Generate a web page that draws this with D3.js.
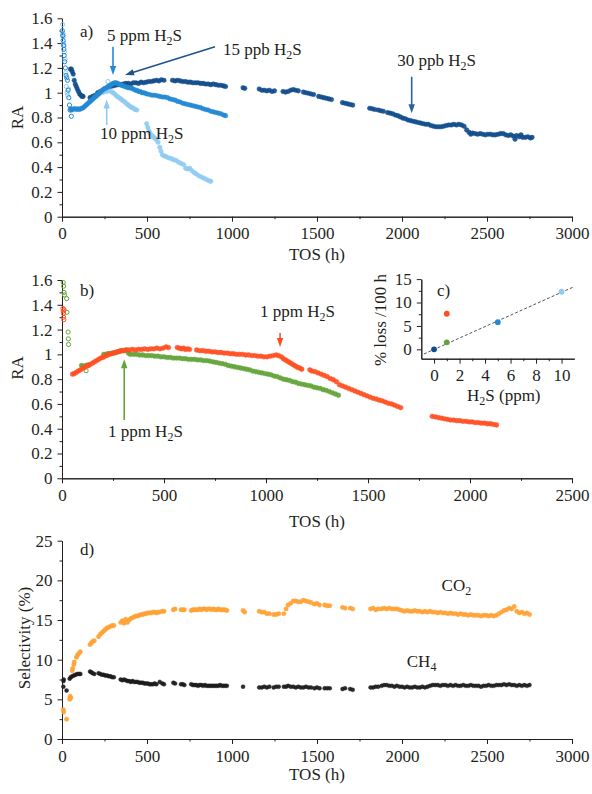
<!DOCTYPE html>
<html>
<head>
<meta charset="utf-8">
<script src="https://cdn.jsdelivr.net/npm/d3@7"></script>
<style>
  body { margin: 0; background: #fff; }
  text { font-family: "Liberation Serif", "Times New Roman", Times, serif; }
</style>
</head>
<body>
<svg id="chart" width="592" height="794"></svg>
<script>
// ---------- Panel a: relative activity vs time on stream ----------
const aTicksX = [0, 500, 1000, 1500, 2000, 2500, 3000];
const aMinorX = [250, 750, 1250, 1750, 2250, 2750];
const aTicksY = [0, 0.2, 0.4, 0.6, 0.8, 1, 1.2, 1.4, 1.6];
const aMinorY = [0.1, 0.3, 0.5, 0.7, 0.9, 1.1, 1.3, 1.5];

// 15 ppb then 30 ppb H2S run
const aDark = [
  [50,1.19],[55,1.19],[60,1.17],[66,1.15],[72,1.10],[78,1.07],[84,1.05],[90,1.03],[97,1.01],[104,0.99],[111,0.98],[118,0.97],[124,0.97],
  [165,0.96],[180,0.97],[195,0.98],[210,1.0],[225,1.01],[240,1.02],[255,1.03],[270,1.04],[285,1.05],[300,1.055],[315,1.06],[330,1.065],
  [345,1.065],[360,1.07],[375,1.075],[390,1.075],[405,1.07],[420,1.08],[435,1.08],[450,1.075],[465,1.085],[480,1.08],[495,1.085],[510,1.09],
  [525,1.09],[540,1.095],[555,1.10],[570,1.095],[585,1.105],[600,1.10],
  [650,1.10],[665,1.095],[680,1.10],[695,1.095],[710,1.09],[725,1.09],[740,1.085],[755,1.085],[770,1.08],[785,1.08],[800,1.08],[815,1.075],
  [830,1.075],[845,1.07],[860,1.07],[875,1.065],[890,1.07],[905,1.065],[920,1.06],[935,1.06],[950,1.055],[962,1.05],
  [1065,1.04],[1075,1.035],
  [1160,1.03],[1175,1.02],[1190,1.02],[1205,1.015],[1220,1.02],[1235,1.01],[1250,1.015],
  [1300,1.01],[1315,1.005],[1330,1.01],[1345,1.02],[1360,1.025],[1375,1.02],[1390,1.015],
  [1420,1.005],[1435,1.0],[1450,0.995],[1465,0.99],[1480,0.985],
  [1510,0.97],[1525,0.965],[1540,0.96],[1555,0.955],[1570,0.95],[1585,0.945],
  [1650,0.92],[1665,0.915],[1680,0.91],[1695,0.905],[1710,0.9],
  [1810,0.875],[1825,0.87],[1840,0.865],[1860,0.86],[1875,0.855],[1890,0.85],
  [1915,0.84],[1930,0.835],[1945,0.83],[1960,0.82],[1975,0.815],[1990,0.805],
  [2005,0.795],[2020,0.79],[2035,0.78],[2050,0.775],[2065,0.77],[2080,0.765],[2095,0.76],[2110,0.755],[2125,0.75],[2140,0.745],
  [2155,0.745],[2170,0.735],[2185,0.73],[2200,0.725],[2215,0.725],[2230,0.725],[2245,0.73],[2260,0.735],[2275,0.74],[2290,0.74],
  [2305,0.745],[2320,0.74],[2335,0.745],[2350,0.74],[2365,0.73],[2380,0.70],[2395,0.68],[2405,0.665],[2415,0.675],[2430,0.67],
  [2445,0.665],[2460,0.67],[2475,0.665],[2490,0.66],[2505,0.665],[2520,0.665],[2535,0.66],[2550,0.66],[2565,0.665],[2580,0.67],
  [2595,0.67],[2610,0.66],[2625,0.655],[2640,0.66],[2655,0.65],[2665,0.625],[2675,0.655],[2690,0.645],[2700,0.66],[2710,0.64],
  [2725,0.64],[2740,0.645],[2755,0.635],[2765,0.64]
];

// 5 ppm H2S run
const aMedium = [
  [50,0.87],[56,0.86],[62,0.865],[70,0.87],[78,0.87],[86,0.865],[94,0.87],[102,0.865],[110,0.87],[118,0.875],[126,0.88],[134,0.89],
  [142,0.90],[150,0.91],[158,0.92],[166,0.93],[174,0.94],[182,0.95],[190,0.96],[198,0.97],[206,0.98],[214,0.99],[222,1.0],[230,1.01],
  [238,1.02],[246,1.03],[254,1.035],[262,1.04],[270,1.05],[278,1.055],[286,1.06],[294,1.07],[302,1.075],[310,1.08],[318,1.08],
  [326,1.075],[334,1.07],[342,1.065],[350,1.06],[360,1.055],[370,1.05],[380,1.045],[390,1.04],[400,1.04],[410,1.035],[420,1.03],
  [430,1.02],[440,1.02],[450,1.01],[460,1.01],[470,1.0],[480,1.0],[490,0.995],[500,0.99],[515,0.985],[530,0.98],[545,0.98],
  [560,0.975],[575,0.97],[590,0.965],[605,0.965],[620,0.96],[635,0.95],[650,0.945],[665,0.94],[680,0.93],[695,0.925],[710,0.915],
  [725,0.91],[740,0.905],[755,0.90],[770,0.895],[785,0.89],[800,0.885],[815,0.88],[830,0.87],[845,0.865],[860,0.86],[875,0.85],
  [890,0.845],[905,0.84],[920,0.835],[935,0.83],[950,0.82],[962,0.815]
];
const aMediumOpen = [
  [2,1.50],[4,1.46],[7,1.42],[9,1.38],[11,1.35],[13,1.30],[16,1.25],[20,1.20],[24,1.14],[28,1.12],[32,1.10],[36,1.02],
  [40,0.96],[44,0.90],[48,0.86],[55,0.81]
];

// 10 ppm H2S run
const aLight = [
  [200,0.97],[215,0.985],[230,1.0],[245,1.005],[260,1.01],[275,1.015],[290,1.01],[300,1.0],[310,0.99],[320,0.975],[330,0.965],
  [340,0.955],[350,0.945],[360,0.935],[370,0.925],[380,0.91],[390,0.90],[400,0.89],[410,0.88],[420,0.875],[430,0.865],[440,0.86],
  [498,0.75],[505,0.72],[512,0.69],[520,0.67],[528,0.655],[536,0.645],[545,0.635],[555,0.62],[565,0.60],[575,0.56],[582,0.53],
  [590,0.50],[600,0.49],[612,0.485],[625,0.475],[640,0.47],[655,0.46],[670,0.455],[685,0.44],[700,0.43],[715,0.42],[728,0.39],
  [740,0.385],[752,0.39],[765,0.37],[778,0.355],[790,0.345],[805,0.33],[820,0.32],[835,0.31],[850,0.30],[865,0.29],[875,0.285]
];
const aLightOpen = [
  [3,1.55],[5,1.48],[6,1.47],[8,1.45],[10,1.40],[12,1.38],[14,1.33],[18,1.27],[22,1.16],[26,1.05],[30,1.0],[34,0.98],[38,1.03],[270,1.09]
];

// ---------- Panel b ----------
const bTicksX = [0, 500, 1000, 1500, 2000, 2500];
const bMinorX = [250, 750, 1250, 1750, 2250];

const bOrange = [
  [52,0.84],[60,0.845],[70,0.855],[80,0.865],[90,0.875],[100,0.885],[110,0.895],[120,0.905],[130,0.91],[140,0.92],[150,0.93],
  [160,0.94],[170,0.95],[180,0.96],[190,0.97],[200,0.975],[210,0.985],[220,0.99],[230,1.0],[240,1.005],[250,1.01],[260,1.015],
  [270,1.02],[280,1.025],[290,1.03],[300,1.03],[315,1.035],[330,1.035],[345,1.04],[360,1.035],[375,1.04],[390,1.04],[405,1.045],
  [420,1.04],[435,1.045],[450,1.045],[465,1.05],[480,1.045],[495,1.05],[510,1.06],[522,1.055],
  [565,1.055],[575,1.05],[585,1.045],[595,1.05],[605,1.04],[615,1.045],[625,1.04],
  [660,1.035],[675,1.03],[690,1.03],[705,1.025],[720,1.025],[735,1.02],[750,1.02],[765,1.015],[780,1.015],[795,1.01],[810,1.01],
  [825,1.005],[840,1.005],[855,1.0],[870,1.0],[885,1.0],[900,0.995],[915,0.995],[930,0.99],[945,0.99],[960,0.985],[975,0.985],
  [990,0.98],[1005,0.98],[1020,0.985],[1035,0.99],[1050,0.995],[1062,0.99],[1075,0.98],[1085,0.965],[1095,0.955],[1105,0.945],
  [1115,0.935],[1125,0.925],[1135,0.915],[1145,0.905],[1155,0.895],[1165,0.89],[1175,0.88],
  [1215,0.875],[1225,0.865],[1240,0.86],[1255,0.85],[1270,0.84],[1285,0.83],[1300,0.82],[1315,0.805],[1330,0.795],[1345,0.78],
  [1360,0.755],[1375,0.745],[1390,0.735],[1405,0.725],[1420,0.715],[1435,0.705],[1450,0.695],[1465,0.685],[1480,0.675],
  [1495,0.665],[1510,0.655],[1525,0.645],[1540,0.64],[1555,0.63],[1570,0.625],[1585,0.615],[1600,0.605],[1615,0.60],
  [1630,0.59],[1645,0.58],[1660,0.57],
  [1815,0.50],[1830,0.495],[1845,0.49],[1860,0.485],[1875,0.48],[1890,0.475],[1905,0.47],[1920,0.47],[1935,0.465],[1950,0.465],
  [1965,0.46],[1980,0.46],[1995,0.455],[2010,0.455],[2025,0.45],[2040,0.45],[2055,0.445],[2070,0.445],[2085,0.44],[2100,0.44],
  [2115,0.435],[2130,0.43]
];
const bOrangeOpen = [[5,1.37],[6,1.35],[7,1.33],[8,1.30],[9,1.28],[10,1.36]];

const bGreen = [
  [96,0.91],[104,0.90],[112,0.905],[120,0.91],[128,0.915],
  [205,1.0],[215,1.0],[225,1.005],[235,1.005],[245,1.01],[255,1.01],[265,1.015],[275,1.02],[285,1.025],[295,1.03],[305,1.03],
  [315,1.035],[325,1.01],[335,1.0],[350,1.0],[365,1.0],[380,0.995],[395,0.995],[410,0.99],[425,0.99],[440,0.99],[455,0.985],
  [470,0.985],[485,0.98],[500,0.98],[515,0.975],[530,0.975],[545,0.97],[560,0.97],[575,0.97],[590,0.965],[605,0.965],[620,0.96],
  [635,0.96],[650,0.96],[665,0.955],[680,0.955],[695,0.95],[710,0.95],[725,0.945],[740,0.94],[755,0.935],[770,0.93],[785,0.925],
  [800,0.92],[815,0.91],[830,0.905],[845,0.90],[860,0.895],[875,0.89],[890,0.885],[905,0.88],[920,0.875],[935,0.865],[950,0.86],
  [965,0.855],[980,0.85],[995,0.845],[1010,0.84],[1025,0.835],[1040,0.825],[1055,0.82],[1070,0.81],[1085,0.80],[1100,0.795],
  [1115,0.79],[1130,0.78],[1145,0.775],[1160,0.765],[1175,0.76],[1190,0.755],[1205,0.75],[1220,0.745],[1235,0.735],[1250,0.73],
  [1265,0.725],[1280,0.715],[1295,0.71],[1310,0.70],[1325,0.69],[1340,0.68],[1355,0.67]
];
const bGreenOpen = [[6,1.58],[8,1.55],[10,1.50],[12,1.48],[23,1.45],[24,1.34],[30,1.18],[31,1.125],[32,1.08],[118,0.868]];

// ---------- Inset c: deactivation rate vs H2S level ----------
const cTicksX = [0, 2, 4, 6, 8, 10];
const cMinorX = [1, 3, 5, 7, 9];
const cTicksY = [0, 5, 10, 15];
const cMinorY = [2.5, 7.5, 12.5];
const cPpm = [0, 1, 1, 5, 10];
const cLoss = [0, 1.5, 7.6, 5.8, 12.3];
const cFitPpm = [-0.8, 11];
const cFitLoss = [-1.0, 13.4];

// ---------- Panel d: selectivity ----------
const dTicksY = [0, 5, 10, 15, 20, 25];
const dMinorY = [2.5, 7.5, 12.5, 17.5, 22.5];

const dCO2 = [
  [8,3.7],[10,3.4],[27,2.5],[45,5.0],[48,5.4],[52,5.2],[60,8.6],[63,8.9],[70,9.4],[72,9.7],[85,10.3],[92,10.6],[100,10.8],[108,11.0],
  [165,11.9],[172,12.1],[180,12.3],[190,12.4],
  [215,12.9],[225,13.2],[235,13.4],[245,13.6],[255,13.8],[265,14.0],[275,14.1],[285,14.2],[295,14.3],[305,14.3],
  [345,14.7],[355,14.9],[365,14.6],[375,15.1],[385,14.7],[395,15.0],[405,15.2],[415,15.3],[425,15.4],[435,15.5],[445,15.5],
  [455,15.6],[465,15.7],[475,15.7],[485,15.8],[495,15.8],[505,15.9],[515,15.9],[525,15.9],[535,16.0],[545,16.0],[555,15.9],
  [565,16.0],[575,16.0],[590,16.1],[600,16.1],
  [655,16.3],[665,16.4],[700,16.3],[710,16.3],[720,16.3],
  [760,16.2],[770,16.3],[780,16.3],[790,16.3],[800,16.3],[810,16.4],[820,16.3],[830,16.4],[840,16.4],[850,16.3],[860,16.4],
  [870,16.4],[880,16.3],[890,16.4],[900,16.3],[910,16.3],[920,16.4],[930,16.3],[940,16.3],[950,16.3],[960,16.3],[970,16.2],
  [1065,16.2],[1075,16.0],
  [1160,16.1],[1175,16.0],[1190,16.0],[1205,15.8],[1220,15.8],[1245,15.7],[1260,15.7],[1275,15.8],
  [1305,15.8],[1318,16.4],[1330,16.9],[1345,17.1],[1360,17.4],[1375,17.4],[1390,17.3],[1405,17.3],[1420,17.5],[1435,17.4],
  [1450,17.3],[1465,17.2],[1485,17.0],[1500,17.1],[1515,16.9],
  [1545,16.9],[1560,16.8],[1575,16.8],
  [1650,16.6],[1665,16.5],[1695,16.5],[1710,16.4],
  [1815,16.4],[1830,16.5],[1845,16.3],[1860,16.4],[1880,16.4],[1895,16.5],[1910,16.4],[1925,16.5],[1940,16.4],[1955,16.4],
  [1970,16.4],[1985,16.3],
  [2000,16.2],[2015,16.1],[2030,16.2],[2045,16.1],[2060,16.1],[2075,16.2],[2090,16.1],[2105,16.1],[2120,16.0],[2135,16.1],
  [2150,16.0],[2165,16.1],[2180,16.0],[2195,16.0],[2210,15.9],[2225,16.0],[2240,15.9],[2255,15.9],[2270,15.8],[2285,15.9],
  [2300,15.8],[2315,15.8],[2330,15.7],[2345,15.8],[2360,15.7],[2375,15.7],[2390,15.6],[2405,15.7],[2420,15.6],[2435,15.6],
  [2450,15.6],[2465,15.5],[2480,15.6],[2495,15.6],[2510,15.5],[2525,15.6],[2540,15.5],[2555,15.6],[2570,15.8],[2585,16.0],
  [2600,16.2],[2615,16.3],[2630,16.5],[2645,16.4],[2660,16.7],[2675,16.1],[2690,15.9],[2705,16.0],[2720,15.8],[2735,15.9],
  [2750,15.7]
];

const dCH4 = [
  [8,6.6],[9,7.3],[10,7.5],[27,6.1],[45,7.6],[52,7.8],[60,7.9],[70,8.0],[80,8.1],[90,8.2],[100,8.2],[108,8.2],
  [165,8.5],[172,8.4],[180,8.3],[190,8.2],
  [215,8.3],[225,8.2],[235,8.1],[245,8.1],[255,8.0],[265,8.0],[275,7.9],[285,7.9],[295,7.8],[305,7.8],
  [345,7.5],[355,7.4],[365,7.5],[375,7.4],[385,7.3],[395,7.3],[405,7.2],[415,7.3],[425,7.2],[435,7.2],[445,7.2],[455,7.1],
  [465,7.1],[475,7.1],[485,7.0],[495,7.0],[505,7.0],[515,6.9],[525,6.9],[535,6.9],[545,7.0],[555,6.9],[575,7.2],[590,7.0],[600,6.9],
  [655,7.1],[665,7.0],[700,6.9],[710,6.9],[720,6.8],
  [760,6.9],[770,6.8],[780,6.8],[790,6.8],[800,6.7],[810,6.8],[820,6.8],[830,6.7],[840,6.8],[850,6.7],[860,6.7],[870,6.7],
  [880,6.7],[890,6.7],[900,6.7],[910,6.7],[920,6.7],[930,6.8],[940,6.7],[950,6.7],[960,6.7],[970,6.7],
  [1065,6.6],
  [1160,6.5],[1175,6.5],[1190,6.6],[1205,6.5],[1220,6.6],[1245,6.5],[1260,6.6],[1275,6.6],
  [1305,6.6],[1318,6.6],[1330,6.7],[1345,6.6],[1360,6.6],[1375,6.5],[1390,6.6],[1405,6.5],[1420,6.5],[1435,6.6],[1450,6.5],
  [1465,6.5],[1485,6.4],[1500,6.5],[1515,6.4],
  [1545,6.4],[1560,6.4],[1575,6.4],
  [1650,6.3],[1665,6.4],[1695,6.3],[1710,6.2],
  [1815,6.5],[1830,6.5],[1845,6.6],[1860,6.6],[1880,6.7],[1895,6.8],[1910,6.8],[1925,6.7],[1940,6.7],[1955,6.6],[1970,6.7],
  [1985,6.6],
  [2000,6.6],[2015,6.5],[2030,6.6],[2045,6.5],[2060,6.5],[2075,6.6],[2090,6.5],[2105,6.5],[2120,6.6],[2135,6.5],[2150,6.6],
  [2165,6.7],[2180,6.8],[2195,6.8],[2210,6.8],[2225,6.7],[2240,6.8],[2255,6.8],[2270,6.7],[2285,6.8],[2300,6.7],[2315,6.8],
  [2330,6.7],[2345,6.7],[2360,6.8],[2375,6.7],[2390,6.7],[2405,6.8],[2420,6.7],[2435,6.7],[2450,6.7],[2465,6.6],[2480,6.7],
  [2495,6.7],[2510,6.8],[2525,6.7],[2540,6.7],[2555,6.8],[2570,6.8],[2585,6.8],[2600,6.9],[2615,6.8],[2630,6.9],[2645,6.8],
  [2660,6.8],[2675,6.7],[2690,6.8],[2705,6.7],[2720,6.8],[2735,6.7],[2750,6.8]
];

// ---------- drawing ----------
const INK = "#231f20";
const C = {
  dark: "#114d8c", medium: "#2389d3", light: "#8fcbf2",
  green: "#62a43a", red: "#ff4f22", co2: "#ffa234", ch4: "#1b1b1b",
  arrowDark: "#1d528f", arrow30: "#2c62a2"
};
const svg = d3.select("#chart");

function styleAxis(sel) {
  sel.selectAll("path, line").attr("stroke", INK).attr("stroke-width", 1);
  sel.selectAll("text").attr("fill", INK).attr("font-size", 17)
     .attr("font-family", '"Liberation Serif","Times New Roman",serif');
}

function drawAxes(x, y, o) {
  const g = svg.append("g");
  const yb = y.range()[0];
  const xl = x.range()[0];
  g.append("g").attr("transform", `translate(0,${yb})`)
    .call(d3.axisBottom(x).tickValues(o.xMinor).tickSize(2.5).tickSizeOuter(0).tickFormat(""))
    .call(styleAxis);
  g.append("g").attr("transform", `translate(0,${yb})`)
    .call(d3.axisBottom(x).tickValues(o.xMajor).tickSize(5).tickPadding(5.5).tickSizeOuter(0).tickFormat(d => String(d)))
    .call(styleAxis);
  g.append("g").attr("transform", `translate(${xl},0)`)
    .call(d3.axisLeft(y).tickValues(o.yMinor).tickSize(2.5).tickSizeOuter(0).tickFormat(""))
    .call(styleAxis);
  g.append("g").attr("transform", `translate(${xl},0)`)
    .call(d3.axisLeft(y).tickValues(o.yMajor).tickSize(4.5).tickPadding(5).tickSizeOuter(0)
      .tickFormat(d => String(+d.toFixed(1))))
    .call(styleAxis);
  return g;
}

function dots(x, y, data, color, r, open) {
  const g = svg.append("g");
  g.selectAll("circle").data(data).join("circle")
    .attr("cx", d => x(d[0])).attr("cy", d => y(d[1])).attr("r", r)
    .attr("fill", open ? "none" : color)
    .attr("stroke", color).attr("stroke-width", open ? 1 : 0.4)
    .attr("fill-opacity", open ? 0 : 0.92);
}

function text(px, py, s, opts = {}) {
  return svg.append("text").attr("x", px).attr("y", py).attr("fill", INK)
    .attr("font-size", opts.size || 17).attr("text-anchor", opts.anchor || "start")
    .attr("transform", opts.rotate ? `rotate(-90,${px},${py})` : null)
    .attr("dominant-baseline", opts.baseline || null)
    .text(s);
}

// label with a subscript, e.g. H2S / CO2 / CH4
function subLabel(px, py, main, sub, tail) {
  const t = svg.append("text").attr("x", px).attr("y", py).attr("fill", INK).attr("font-size", 17);
  t.append("tspan").text(main);
  t.append("tspan").attr("font-size", 12).attr("dy", 4).text(sub);
  if (tail) t.append("tspan").attr("font-size", 17).attr("dy", -4).text(tail);
  return t;
}

function arrow(x1, y1, x2, y2, color) {
  const L = Math.hypot(x2 - x1, y2 - y1);
  const ux = (x2 - x1) / L, uy = (y2 - y1) / L;
  const hl = 9, hw = 3.2;
  const bx = x2 - ux * hl, by = y2 - uy * hl;
  svg.append("line").attr("x1", x1).attr("y1", y1).attr("x2", bx + ux).attr("y2", by + uy)
    .attr("stroke", color).attr("stroke-width", 1.6);
  svg.append("path")
    .attr("d", `M${x2},${y2}L${bx - uy * hw},${by + ux * hw}L${bx + uy * hw},${by - ux * hw}Z`)
    .attr("fill", color);
}

// ----- panel a -----
const xa = d3.scaleLinear().domain([0, 3000]).range([62, 572]);
const ya = d3.scaleLinear().domain([0, 1.6]).range([216.7, 18.3]);
drawAxes(xa, ya, { xMajor: aTicksX, xMinor: aMinorX, yMajor: aTicksY, yMinor: aMinorY });
dots(xa, ya, aLightOpen, C.light, 2.1, true);
dots(xa, ya, aMediumOpen, C.medium, 2.1, true);
dots(xa, ya, aDark, C.dark, 2.3, false);
dots(xa, ya, aLight, C.light, 2.3, false);
dots(xa, ya, aMedium, C.medium, 2.3, false);
text(80, 37, "a)");
text(17.5, 117.5, "RA", { rotate: true, anchor: "middle", baseline: "central" });
text(317, 260, "TOS (h)", { anchor: "middle" });
subLabel(xa(265), ya(1.413), "5 ppm H", "2", "S");
arrow(xa(300), ya(1.371), xa(300), ya(1.143), C.medium);
subLabel(xa(947), ya(1.308), "15 ppb H", "2", "S");
arrow(xa(900), ya(1.371), xa(371), ya(1.143), C.arrowDark);
subLabel(xa(224), ya(0.623), "10 ppm H", "2", "S");
arrow(xa(263), ya(0.74), xa(263), ya(0.945), C.light);
subLabel(xa(1972), ya(1.215), "30 ppb H", "2", "S");
arrow(xa(2057), ya(1.129), xa(2057), ya(0.834), C.arrow30);

// ----- panel b -----
const xb = d3.scaleLinear().domain([0, 2500]).range([62, 572]);
const yb = d3.scaleLinear().domain([0, 1.6]).range([478.3, 280]);
drawAxes(xb, yb, { xMajor: bTicksX, xMinor: bMinorX, yMajor: aTicksY, yMinor: aMinorY });
dots(xb, yb, bGreenOpen, C.green, 2.1, true);
dots(xb, yb, bOrangeOpen, C.red, 2.1, true);
dots(xb, yb, bGreen, C.green, 2.4, false);
dots(xb, yb, bOrange, C.red, 2.4, false);
text(80, 296, "b)");
text(17.5, 368, "RA", { rotate: true, anchor: "middle", baseline: "central" });
text(317, 527, "TOS (h)", { anchor: "middle" });
subLabel(xb(971), yb(1.305), "1 ppm H", "2", "S");
arrow(xb(1069), yb(1.172), xb(1069), yb(1.06), C.red);
subLabel(xb(225), yb(0.33), "1 ppm H", "2", "S");
arrow(xb(305), yb(0.47), xb(305), yb(0.96), C.green);

// ----- inset c -----
const xc = d3.scaleLinear().domain([-1, 11]).range([421.3, 574.3]);
const yc = d3.scaleLinear().domain([-2, 15]).range([358.7, 279.1]);
drawAxes(xc, yc, { xMajor: cTicksX, xMinor: cMinorX, yMajor: cTicksY, yMinor: cMinorY });
svg.append("path")
  .attr("d", d3.line()([[xc(cFitPpm[0]), yc(cFitLoss[0])], [xc(cFitPpm[1]), yc(cFitLoss[1])]]))
  .attr("stroke", "#555").attr("stroke-width", 1).attr("stroke-dasharray", "3,2").attr("fill", "none");
const cColors = [C.dark, C.green, C.red, C.medium, C.light];
svg.append("g").selectAll("circle").data(cPpm).join("circle")
  .attr("cx", d => xc(d)).attr("cy", (d, i) => yc(cLoss[i])).attr("r", 2.9)
  .attr("fill", (d, i) => cColors[i]);
text(437, 296, "c)");
text(380, 320, "% loss /100 h", { rotate: true, anchor: "middle", baseline: "central" });
subLabel(467, 401, "H", "2", "S (ppm)");

// ----- panel d -----
const xd = d3.scaleLinear().domain([0, 3000]).range([62, 572]);
const yd = d3.scaleLinear().domain([0, 25]).range([739, 540.7]);
drawAxes(xd, yd, { xMajor: aTicksX, xMinor: aMinorX, yMajor: dTicksY, yMinor: dMinorY });
dots(xd, yd, dCO2, C.co2, 2.2, false);
dots(xd, yd, dCH4, C.ch4, 2.0, false);
text(80, 555, "d)");
text(24, 638, "Selectivity (%)", { rotate: true, anchor: "middle", baseline: "central" });
text(317, 780, "TOS (h)", { anchor: "middle" });
subLabel(xd(2233), yd(18.6), "CO", "2");
subLabel(xd(2028), yd(9.14), "CH", "4");
</script>
</body>
</html>
